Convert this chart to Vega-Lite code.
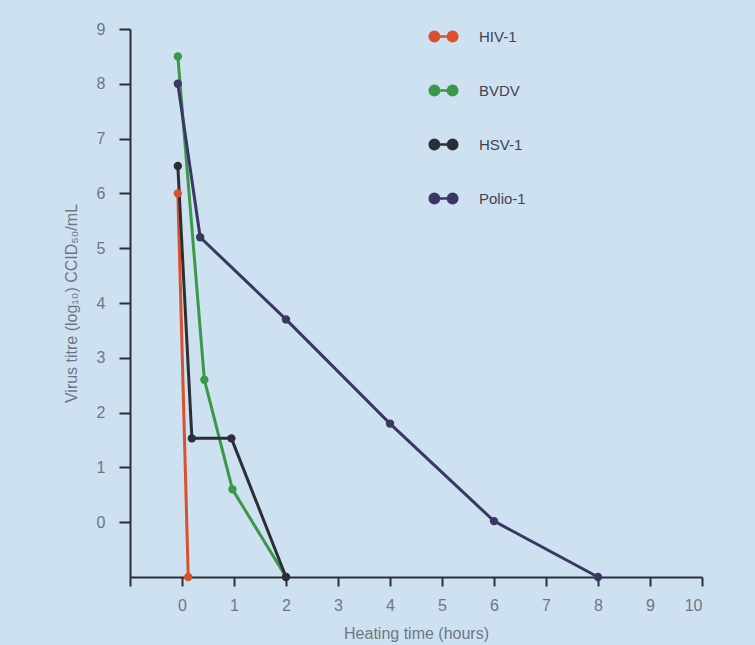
{
  "$schema": "https://vega.github.io/schema/vega-lite/v6.json",
  "autosize": "none",
  "width": 572,
  "height": 548,
  "padding": {"left": 130, "top": 29, "right": 53, "bottom": 68},
  "background": "#cde1f0",
  "config": {
    "view": {"stroke": null},
    "font": "Liberation Sans",
    "axis": {
      "grid": false,
      "domainColor": "#2a2e36",
      "domainWidth": 2,
      "tickColor": "#2a2e36",
      "tickWidth": 2,
      "tickSize": 9,
      "labelColor": "#6d7784",
      "labelFontSize": 16,
      "titleColor": "#6d7784",
      "titleFontSize": 16,
      "titleFontWeight": "normal"
    }
  },
  "data": {
    "values": [
      {"virus": "HIV-1", "t": -0.08, "titre": 6.0, "i": 0},
      {"virus": "HIV-1", "t": 0.12, "titre": -1.0, "i": 1},
      {"virus": "BVDV", "t": -0.08, "titre": 8.5, "i": 0},
      {"virus": "BVDV", "t": 0.43, "titre": 2.6, "i": 1},
      {"virus": "BVDV", "t": 0.97, "titre": 0.6, "i": 2},
      {"virus": "BVDV", "t": 2.0, "titre": -1.0, "i": 3},
      {"virus": "HSV-1", "t": -0.08, "titre": 6.5, "i": 0},
      {"virus": "HSV-1", "t": 0.19, "titre": 1.53, "i": 1},
      {"virus": "HSV-1", "t": 0.95, "titre": 1.53, "i": 2},
      {"virus": "HSV-1", "t": 2.0, "titre": -1.0, "i": 3},
      {"virus": "Polio-1", "t": -0.08, "titre": 8.0, "i": 0},
      {"virus": "Polio-1", "t": 0.35, "titre": 5.2, "i": 1},
      {"virus": "Polio-1", "t": 2.0, "titre": 3.7, "i": 2},
      {"virus": "Polio-1", "t": 4.0, "titre": 1.8, "i": 3},
      {"virus": "Polio-1", "t": 6.0, "titre": 0.02, "i": 4},
      {"virus": "Polio-1", "t": 8.0, "titre": -1.0, "i": 5}
    ]
  },
  "encoding": {
    "x": {
      "field": "t", "type": "quantitative",
      "scale": {"domain": [-1, 10], "nice": false, "zero": false},
      "axis": {
        "title": "Heating time (hours)",
        "values": [-1, 0, 1, 2, 3, 4, 5, 6, 7, 8, 9, 10],
        "labelExpr": "datum.value < 0 ? '' : datum.label",
        "labelPadding": 11,
        "titlePadding": 12
      }
    },
    "y": {
      "field": "titre", "type": "quantitative",
      "scale": {"domain": [-1, 9], "nice": false, "zero": false},
      "axis": {
        "title": "Virus titre (log₁₀) CCID₅₀/mL",
        "values": [0, 1, 2, 3, 4, 5, 6, 7, 8, 9],
        "tickSize": 11,
        "labelPadding": 14,
        "titlePadding": 17
      }
    },
    "color": {
      "field": "virus", "type": "nominal",
      "scale": {
        "domain": ["HIV-1", "BVDV", "HSV-1", "Polio-1"],
        "range": ["#d9512e", "#3a9848", "#2c2e35", "#3b3764"]
      },
      "legend": {
        "title": null,
        "orient": "none",
        "legendX": 298,
        "legendY": -8,
        "symbolType": "M-1,0A0.34,0.34 0 1,0 -0.32,0A0.34,0.34 0 1,0 -1,0Z M0.32,0A0.34,0.34 0 1,0 1,0A0.34,0.34 0 1,0 0.32,0Z M-0.66,0L0.66,0",
        "symbolSize": 760,
        "symbolStrokeWidth": 2.5,
        "symbolOpacity": 1,
        "labelFontSize": 15,
        "labelColor": "#3e4450",
        "labelOffset": 20,
        "rowPadding": 28,
        "encode": {
          "symbols": {"update": {"fill": {"scale": "color", "field": "value"}, "stroke": {"scale": "color", "field": "value"}}}
        }
      }
    }
  },
  "layer": [
    {
      "mark": {"type": "line", "strokeWidth": 3},
      "encoding": {"order": {"field": "i", "type": "quantitative"}}
    },
    {
      "mark": {"type": "point", "filled": true, "opacity": 1, "size": 70}
    }
  ]
}
